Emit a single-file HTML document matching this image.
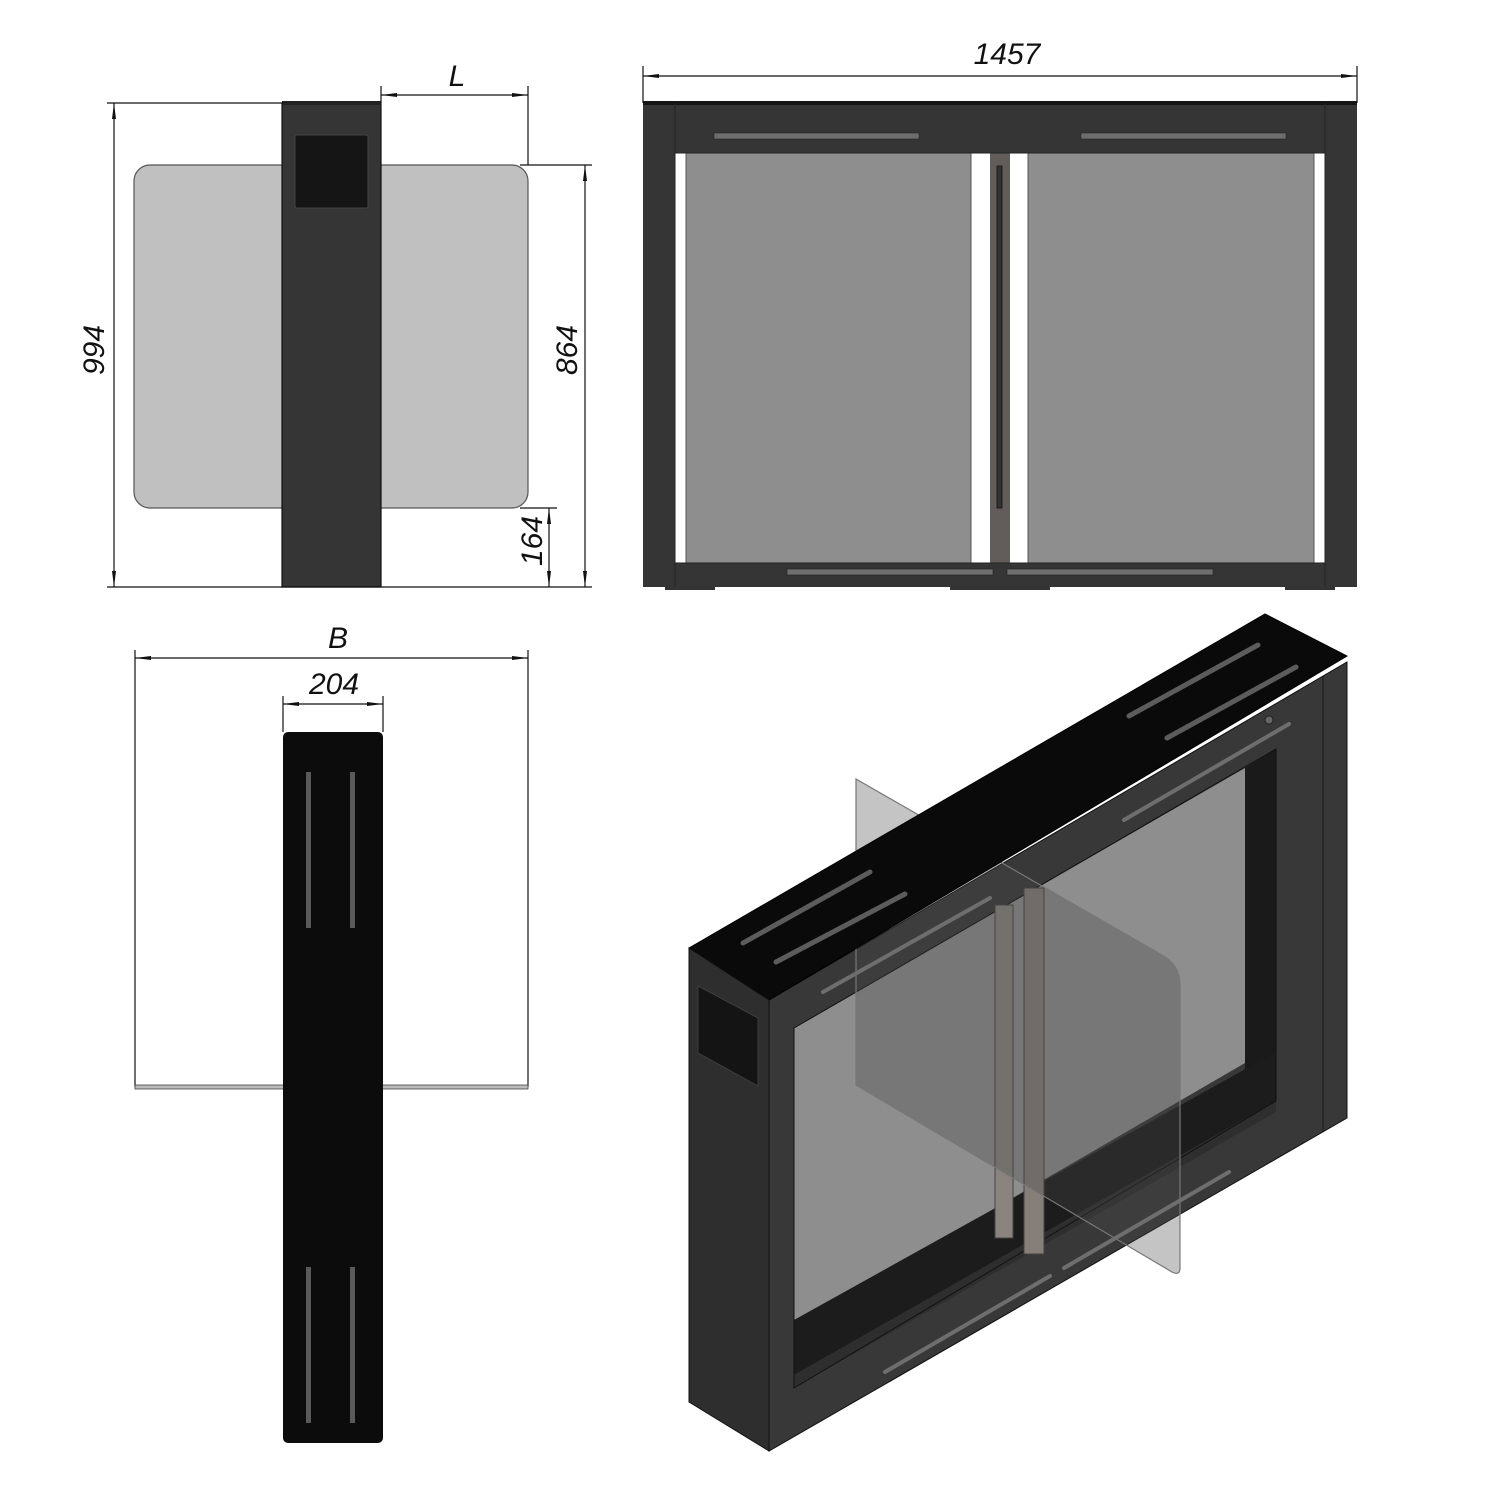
<!DOCTYPE html>
<html><head><meta charset="utf-8"><style>
html,body{margin:0;padding:0;background:#fff;}
svg{display:block;}
text{font-family:"Liberation Sans",sans-serif;font-style:italic;fill:#111;}
</style></head><body>
<svg width="1497" height="1497" viewBox="0 0 1497 1497" xmlns="http://www.w3.org/2000/svg">
<defs>
<marker id="ar" markerWidth="16" markerHeight="6" refX="16" refY="3" orient="auto-start-reverse" markerUnits="userSpaceOnUse">
<path d="M0,1 L16,3 L0,5 Z" fill="#111"/>
</marker>
</defs>

<!-- ========== SIDE VIEW (top-left) ========== -->
<rect x="134" y="165" width="394" height="343" rx="16" fill="#c0c0c0" stroke="#555" stroke-width="1.2"/>
<rect x="282" y="103" width="99" height="484" fill="#353535" stroke="#111" stroke-width="1.2"/>
<rect x="282" y="101" width="99" height="4" fill="#222"/>
<rect x="295" y="135" width="73" height="73" rx="2" fill="#151515" stroke="#444" stroke-width="1"/>
<!-- dims -->
<g stroke="#111" stroke-width="1.2" fill="none">
<line x1="107" y1="103" x2="284" y2="103"/>
<line x1="107" y1="587" x2="592" y2="587"/>
<line x1="114" y1="103" x2="114" y2="587" marker-start="url(#ar)" marker-end="url(#ar)"/>
<line x1="381" y1="86" x2="381" y2="103"/>
<line x1="528" y1="86" x2="528" y2="165"/>
<line x1="381" y1="95" x2="528" y2="95" marker-start="url(#ar)" marker-end="url(#ar)"/>
<line x1="520" y1="165" x2="592" y2="165"/>
<line x1="585" y1="165" x2="585" y2="587" marker-start="url(#ar)" marker-end="url(#ar)"/>
<line x1="520" y1="508" x2="557" y2="508"/>
<line x1="549" y1="508" x2="549" y2="587" marker-start="url(#ar)" marker-end="url(#ar)"/>
</g>
<text x="0" y="0" font-size="30" transform="translate(104,350) rotate(-90)" text-anchor="middle">994</text>
<text x="0" y="0" font-size="30" transform="translate(577,350) rotate(-90)" text-anchor="middle">864</text>
<text x="0" y="0" font-size="30" transform="translate(542,541) rotate(-90)" text-anchor="middle">164</text>
<text x="457" y="86" font-size="30" text-anchor="middle">L</text>

<!-- ========== FRONT VIEW (top-right) ========== -->
<g stroke="#111" stroke-width="1.2" fill="none">
<line x1="643" y1="66" x2="643" y2="103"/>
<line x1="1357" y1="66" x2="1357" y2="103"/>
<line x1="643" y1="76" x2="1357" y2="76" marker-start="url(#ar)" marker-end="url(#ar)"/>
</g>
<text x="1007" y="64" font-size="30" text-anchor="middle">1457</text>
<rect x="643" y="103" width="714" height="484" fill="#353535"/>
<rect x="643" y="101" width="714" height="4" fill="#151515"/>
<rect x="675" y="153" width="650" height="410" fill="#fff"/>
<rect x="686" y="153" width="285" height="410" fill="#8e8e8e" stroke="#555" stroke-width="1"/>
<rect x="1028" y="153" width="286" height="410" fill="#8e8e8e" stroke="#555" stroke-width="1"/>
<rect x="990" y="153" width="20" height="410" fill="#625d5a"/>
<rect x="997" y="166" width="5" height="342" fill="#333" stroke="#111" stroke-width="0.8"/>
<rect x="675" y="153" width="650" height="410" fill="none" stroke="#222" stroke-width="1"/>
<line x1="675" y1="103" x2="675" y2="587" stroke="#222" stroke-width="1"/>
<line x1="1325" y1="103" x2="1325" y2="587" stroke="#222" stroke-width="1"/>
<rect x="714" y="133" width="205" height="6" fill="#6e6e6e" stroke="#222" stroke-width="0.6"/>
<rect x="1081" y="133" width="205" height="6" fill="#6e6e6e" stroke="#222" stroke-width="0.6"/>
<rect x="787" y="569" width="206" height="6" fill="#6e6e6e" stroke="#222" stroke-width="0.6"/>
<rect x="1007" y="569" width="206" height="6" fill="#6e6e6e" stroke="#222" stroke-width="0.6"/>
<rect x="665" y="587" width="50" height="3" fill="#333"/>
<rect x="950" y="587" width="100" height="3" fill="#333"/>
<rect x="1285" y="587" width="50" height="3" fill="#333"/>

<!-- ========== TOP VIEW (bottom-left) ========== -->
<g stroke="#111" stroke-width="1.2" fill="none">
<line x1="135" y1="650" x2="135" y2="1087"/>
<line x1="528" y1="650" x2="528" y2="1087"/>
<line x1="135" y1="658" x2="528" y2="658" marker-start="url(#ar)" marker-end="url(#ar)"/>
<line x1="283" y1="696" x2="283" y2="732"/>
<line x1="383" y1="696" x2="383" y2="732"/>
<line x1="283" y1="704" x2="383" y2="704" marker-start="url(#ar)" marker-end="url(#ar)"/>
</g>
<rect x="135" y="1085" width="393" height="4" fill="#bbb" stroke="#444" stroke-width="0.8"/>
<text x="338" y="648" font-size="30" text-anchor="middle">B</text>
<text x="334" y="694" font-size="30" text-anchor="middle">204</text>
<rect x="283" y="732" width="100" height="711" rx="5" fill="#0c0c0c"/>
<rect x="306" y="772" width="5" height="156" fill="#5a5a5a"/>
<rect x="350" y="772" width="5" height="156" fill="#5a5a5a"/>
<rect x="306" y="1267" width="5" height="156" fill="#5a5a5a"/>
<rect x="350" y="1267" width="5" height="156" fill="#5a5a5a"/>

<!-- ========== ISOMETRIC (bottom-right) ========== -->
<!-- front face -->
<polygon points="769,1000 1347,662 1347,1118 769,1451" fill="#383838" stroke="#111" stroke-width="1"/>
<!-- opening light -->
<polygon points="794,1028 1245,768 1245,1063 794,1325" fill="#8e8e8e"/>
<!-- inner right wall -->
<polygon points="1245,768 1276,749 1276,1096 1245,1080" fill="#1a1a1a"/>
<!-- dark floor band -->
<polygon points="794,1320 1276,1052 1276,1101 794,1375" fill="#1c1c1c"/>
<polygon points="794,1375 1276,1101 1276,1112 794,1388" fill="#2e2e2e"/>
<polygon points="794,1028 1276,749 1276,1101 794,1388" fill="none" stroke="#111" stroke-width="1"/>
<line x1="1323" y1="676" x2="1323" y2="1131" stroke="#1a1a1a" stroke-width="1"/>
<!-- pillars -->
<rect x="995" y="905" width="18" height="333" fill="#8a837e" stroke="#444" stroke-width="1"/>
<rect x="1024" y="888" width="20" height="366" fill="#857e79" stroke="#444" stroke-width="1"/>
<!-- glass panel -->
<path d="M856,779 L1162,955 Q1180,965 1180,985 L1180,1268 Q1180,1276 1172,1272 L856,1085 Z" fill="rgba(70,70,70,0.32)" stroke="#777" stroke-width="1.2"/>
<!-- top face -->
<polygon points="689,948 1265,614 1347,656 769,1000" fill="#0a0a0a" stroke="#000" stroke-width="1"/>
<!-- left face -->
<polygon points="689,948 769,1000 769,1451 689,1402" fill="#2e2e2e" stroke="#111" stroke-width="1"/>
<polygon points="698,986 758,1018 758,1086 698,1053" fill="#141414" stroke="#444" stroke-width="0.8"/>
<!-- slots -->
<g stroke="#5c5c5c" stroke-width="5" stroke-linecap="round">
<line x1="743" y1="943" x2="870" y2="872"/>
<line x1="776" y1="962" x2="905" y2="894"/>
<line x1="1129" y1="716" x2="1258" y2="645"/>
<line x1="1167" y1="738" x2="1296" y2="667"/>
</g>
<g stroke="#6e6e6e" stroke-width="4" stroke-linecap="round">
<line x1="823" y1="992" x2="990" y2="898"/>
<line x1="1124" y1="820" x2="1289" y2="724"/>
<line x1="885" y1="1372" x2="1050" y2="1276"/>
<line x1="1064" y1="1268" x2="1229" y2="1172"/>
</g>
<circle cx="1269" cy="720" r="4" fill="#666" stroke="#222"/>
</svg>
</body></html>
